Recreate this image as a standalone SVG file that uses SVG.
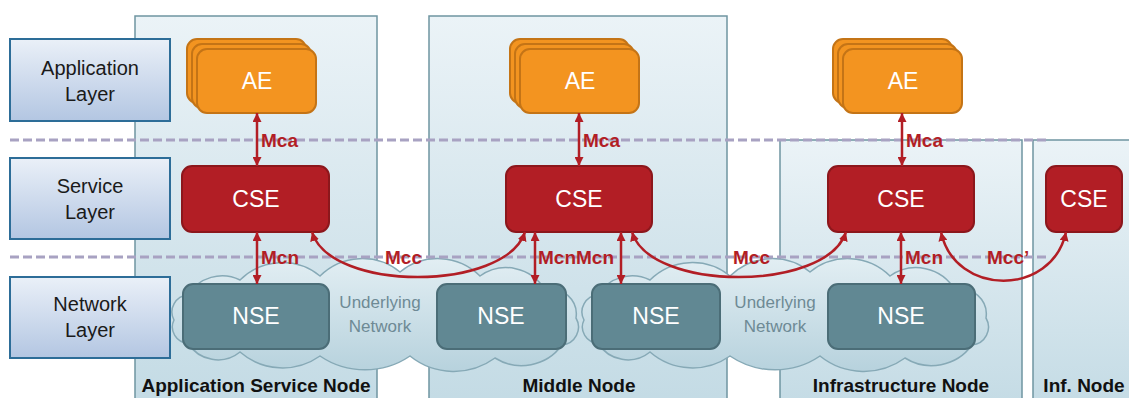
<svg xmlns="http://www.w3.org/2000/svg" width="1129" height="398" viewBox="0 0 1129 398">
<defs>
<linearGradient id="gLayer" x1="0" y1="0" x2="0" y2="1"><stop offset="0" stop-color="#eaf0f8"/><stop offset="1" stop-color="#b3c6e2"/></linearGradient>
<linearGradient id="gCont" x1="0" y1="0" x2="0" y2="1"><stop offset="0" stop-color="#ebf3f7"/><stop offset="1" stop-color="#c2dae4"/></linearGradient>
<linearGradient id="gCloud" x1="0" y1="0" x2="0" y2="1"><stop offset="0" stop-color="#e2eef3"/><stop offset="1" stop-color="#b7d2dd"/></linearGradient>
<marker id="ah" viewBox="0 0 10 10" refX="10" refY="5" markerWidth="9" markerHeight="9" markerUnits="userSpaceOnUse" orient="auto-start-reverse"><path d="M0,0 L10,5 L0,10 z" fill="#b21e25"/></marker>
<path id="cloud" d="M174,320 A17,17 0 0 1 188,295 A40,40 0 0 1 240,280 A60,60 0 0 1 320,276 A60,60 0 0 1 400,272 A60,60 0 0 1 480,276 A45,45 0 0 1 545,290 A25,25 0 0 1 576,318 A18,18 0 0 1 562,345 A50,50 0 0 1 495,358 A70,70 0 0 1 410,356 A80,80 0 0 1 320,356 A65,65 0 0 1 240,352 A35,35 0 0 1 188,343 A16,16 0 0 1 174,320 Z"/>
</defs>
<style>
text{font-family:"Liberation Sans",Arial,sans-serif}
.cont{fill:url(#gCont);stroke:#6f95a1;stroke-width:1.5}
.layer rect{fill:url(#gLayer);stroke:#2d6d98;stroke-width:2}
.layer text{font-size:20px;fill:#1a1a1a;text-anchor:middle}
.cloud{fill:url(#gCloud);stroke:#86a9b6;stroke-width:1.5}
.ul{font-size:17px;fill:#6e8a95;text-anchor:middle}
.dash{stroke:#a8a2c2;stroke-width:3;stroke-dasharray:9 4;fill:none}
.ae{fill:#f39420;stroke:#c47416;stroke-width:2}
.cse{fill:#b21e25;stroke:#8c171c;stroke-width:2}
.nse{fill:#618893;stroke:#4b6d77;stroke-width:2}
.nl{font-size:23px;fill:#ffffff;text-anchor:middle}
.conn path{stroke:#b21e25;stroke-width:2.5;fill:none;marker-start:url(#ah);marker-end:url(#ah)}
.cl{font-size:19px;font-weight:bold;fill:#b21e25}
.title{font-size:19px;font-weight:bold;fill:#111;text-anchor:middle}
</style>

<g id="containers">
<rect id="asn" class="cont" x="135" y="16" width="242" height="400"/>
<rect id="mn" class="cont" x="429" y="16" width="298" height="400"/>
<rect id="in" class="cont" x="780" y="140" width="242" height="280"/>
<rect id="infn" class="cont" x="1033" y="140" width="110" height="280"/>
</g>

<g id="layers">
<g id="appLayer" class="layer"><rect x="10" y="39" width="160" height="82"/><text x="90" y="75">Application</text><text x="90" y="101">Layer</text></g>
<g id="svcLayer" class="layer"><rect x="10" y="158" width="160" height="81"/><text x="90" y="193">Service</text><text x="90" y="219">Layer</text></g>
<g id="netLayer" class="layer"><rect x="10" y="277" width="160" height="81"/><text x="90" y="311">Network</text><text x="90" y="337">Layer</text></g>
</g>

<g id="clouds">
<g id="cloud1"><use href="#cloud" class="cloud"/><text class="ul" x="380" y="308">Underlying</text><text class="ul" x="380" y="332">Network</text></g>
<g id="cloud2"><use href="#cloud" class="cloud" transform="translate(410,0)"/><text class="ul" x="775" y="308">Underlying</text><text class="ul" x="775" y="332">Network</text></g>
</g>

<g id="dividers">
<line class="dash" x1="10" y1="140" x2="1050" y2="140"/>
<line class="dash" x1="10" y1="257" x2="1050" y2="257"/>
</g>

<g id="ae1"><rect class="ae" x="187" y="39" width="119" height="64" rx="10"/><rect class="ae" x="192" y="44" width="119" height="64" rx="10"/><rect class="ae" x="197" y="49" width="119" height="64" rx="10"/><text class="nl" x="257" y="89">AE</text></g>
<g id="ae2"><rect class="ae" x="510" y="39" width="119" height="64" rx="10"/><rect class="ae" x="515" y="44" width="119" height="64" rx="10"/><rect class="ae" x="520" y="49" width="119" height="64" rx="10"/><text class="nl" x="580" y="89">AE</text></g>
<g id="ae3"><rect class="ae" x="833" y="39" width="119" height="64" rx="10"/><rect class="ae" x="838" y="44" width="119" height="64" rx="10"/><rect class="ae" x="843" y="49" width="119" height="64" rx="10"/><text class="nl" x="903" y="89">AE</text></g>

<g id="cse1"><rect class="cse" x="182" y="166" width="147" height="66" rx="10"/><text class="nl" x="256" y="207">CSE</text></g>
<g id="cse2"><rect class="cse" x="506" y="166" width="146" height="66" rx="10"/><text class="nl" x="579" y="207">CSE</text></g>
<g id="cse3"><rect class="cse" x="828" y="166" width="146" height="66" rx="10"/><text class="nl" x="901" y="207">CSE</text></g>
<g id="cse4"><rect class="cse" x="1046" y="166" width="76" height="66" rx="10"/><text class="nl" x="1084" y="207">CSE</text></g>

<g id="nse1"><rect class="nse" x="183" y="284" width="146" height="65" rx="10"/><text class="nl" x="256" y="324">NSE</text></g>
<g id="nse2"><rect class="nse" x="437" y="284" width="129" height="65" rx="10"/><text class="nl" x="501" y="324">NSE</text></g>
<g id="nse3"><rect class="nse" x="592" y="284" width="128" height="65" rx="10"/><text class="nl" x="656" y="324">NSE</text></g>
<g id="nse4"><rect class="nse" x="828" y="284" width="147" height="65" rx="10"/><text class="nl" x="901" y="324">NSE</text></g>

<g id="connectors" class="conn">
<path d="M257,113 L257,166"/>
<path d="M579,113 L579,166"/>
<path d="M902,113 L902,166"/>
<path d="M257,232 L257,284"/>
<path d="M535,232 L535,284"/>
<path d="M621,232 L621,284"/>
<path d="M901,232 L901,284"/>
<path d="M312,232 C330,292 505,292 525,232"/>
<path d="M632,232 C650,292 827,292 846,232"/>
<path d="M941,232 C955,297 1052,297 1066,232"/>
</g>

<g id="connector-labels">
<text class="cl" x="261" y="147">Mca</text>
<text class="cl" x="583" y="147">Mca</text>
<text class="cl" x="906" y="147">Mca</text>
<text class="cl" x="261" y="264">Mcn</text>
<text class="cl" x="538" y="264">Mcn</text>
<text class="cl" x="576" y="264">Mcn</text>
<text class="cl" x="905" y="264">Mcn</text>
<text class="cl" x="385" y="264">Mcc</text>
<text class="cl" x="733" y="264">Mcc</text>
<text class="cl" x="987" y="264">Mcc’</text>
</g>

<g id="titles">
<text class="title" x="256" y="392">Application Service Node</text>
<text class="title" x="579" y="392">Middle Node</text>
<text class="title" x="901" y="392">Infrastructure Node</text>
<text class="title" x="1084" y="392">Inf. Node</text>
</g>
</svg>
